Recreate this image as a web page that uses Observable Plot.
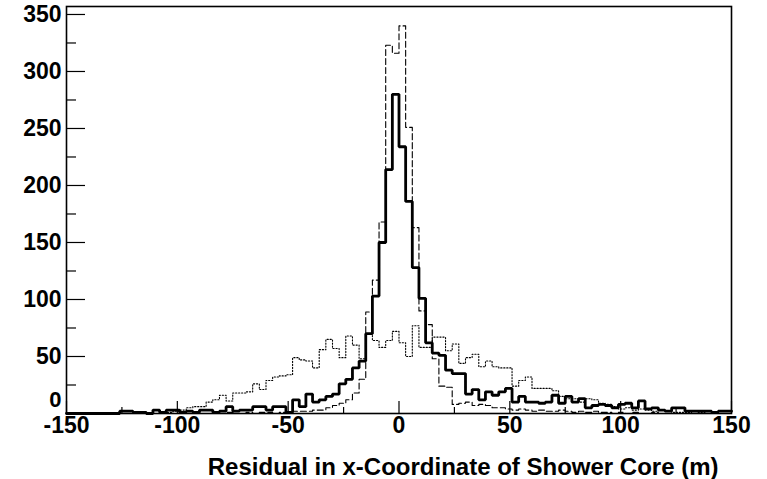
<!DOCTYPE html>
<html>
<head>
<meta charset="utf-8">
<script src="https://cdn.jsdelivr.net/npm/d3@7"></script>
<script src="https://cdn.jsdelivr.net/npm/@observablehq/plot@0.6"></script>
<style>
  body { margin: 0; background: #fff; }
  #chart svg { display: block; }
</style>
</head>
<body>
<div id="chart"></div>
<script>
// Histogram binning: 100 bins of 3 m from -150 m to 150 m
const binLow = -150;
const binWidth = 3;

// Thick solid histogram (counts per bin)
const solidCounts = [
  0, 0, 0, 0, 0, 0, 0, 0, 2, 2,
  1, 1, 0, 3, 1, 3, 3, 1, 2, 1,
  3, 3, 1, 2, 6, 2, 3, 3, 6, 6,
  3, 6, 6, 1, 12, 6, 17, 10, 12, 15,
  17, 26, 30, 40, 46, 70, 103, 150, 214, 280,
  234, 186, 128, 101, 62, 53, 51, 38, 35, 35,
  17, 21, 12, 19, 16, 19, 22, 10, 15, 10,
  10, 9, 10, 16, 9, 15, 10, 13, 5, 7,
  8, 7, 5, 8, 9, 5, 11, 4, 5, 3,
  2, 5, 5, 2, 2, 2, 2, 1, 2, 2
];

// Dashed histogram (narrowest distribution)
const dashedCounts = [
  0, 0, 0, 0, 0, 0, 0, 0, 0, 0,
  0, 0, 0, 0, 0, 0, 0, 0, 0, 0,
  0, 0, 0, 0, 1, 0, 0, 1, 0, 1,
  1, 0, 1, 1, 2, 2, 2, 3, 3, 5,
  7, 9, 12, 18, 30, 89, 117, 168, 323, 316,
  340, 251, 163, 90, 78, 48, 24, 23, 8, 9,
  10, 7, 8, 7, 5, 5, 4, 3, 4, 3,
  2, 3, 2, 2, 3, 2, 1, 2, 1, 2,
  1, 1, 0, 1, 0, 1, 0, 0, 1, 0,
  0, 0, 0, 0, 0, 0, 0, 0, 0, 0
];

// Dotted histogram (broad distribution)
const dottedCounts = [
  0, 0, 0, 0, 0, 0, 0, 0, 0, 0,
  0, 0, 0, 0, 0, 1, 2, 3, 5, 6,
  6, 10, 12, 16, 11, 18, 18, 19, 26, 21,
  29, 32, 33, 34, 49, 47, 46, 40, 56, 65,
  57, 49, 68, 60, 48, 70, 64, 58, 64, 72,
  62, 50, 77, 58, 58, 67, 67, 55, 61, 44,
  49, 52, 41, 46, 41, 40, 40, 24, 29, 32,
  22, 22, 22, 20, 15, 13, 13, 10, 13, 12,
  9, 8, 6, 4, 5, 3, 4, 3, 2, 3,
  2, 1, 1, 1, 0, 1, 0, 0, 0, 0
];

// Axis ticks and labels
const xLabelTicks = [-150, -100, -50, 0, 50, 100, 150];
const xMinorTicks = [-125, -75, -25, 25, 75, 125];
const yLabelTicks = [0, 50, 100, 150, 200, 250, 300, 350];
const yMinorTicks = [25, 75, 125, 175, 225, 275, 325];
const xTitle = "Residual in x-Coordinate of Shower Core (m)";
const yMax = 357;

const W = 767, H = 479;
const mL = 66, mR = 36, mT = 6, mB = 66;
const frameW = W - mL - mR;
const frameH = H - mT - mB;

// Turn bin counts into step-line vertices (one per bin edge)
function stepPoints(counts) {
  const pts = counts.map((c, i) => ({x: binLow + i * binWidth, y: c}));
  pts.push({x: binLow + counts.length * binWidth, y: counts[counts.length - 1]});
  return pts;
}

const font = "'Liberation Sans', Arial, Helvetica, sans-serif";

const chart = Plot.plot({
  width: W,
  height: H,
  marginLeft: mL,
  marginRight: mR,
  marginTop: mT,
  marginBottom: mB,
  x: {domain: [-150, 150], axis: null},
  y: {domain: [0, yMax], axis: null},
  style: {fontFamily: font, fontWeight: "bold", background: "white", color: "black"},
  marks: [
    Plot.line(stepPoints(dottedCounts), {
      x: "x", y: "y", curve: "step-after",
      stroke: "black", strokeWidth: 1.1, strokeDasharray: "1.2,1.8"
    }),
    Plot.line(stepPoints(dashedCounts), {
      x: "x", y: "y", curve: "step-after",
      stroke: "black", strokeWidth: 1.1, strokeDasharray: "6,3"
    }),
    Plot.line(stepPoints(solidCounts), {
      x: "x", y: "y", curve: "step-after",
      stroke: "black", strokeWidth: 2.8, strokeLinejoin: "miter"
    }),
    // inward ticks on the left and bottom axes
    Plot.tickY(yLabelTicks, {y: d => d, insetRight: frameW - 19, stroke: "black", strokeWidth: 1.2}),
    Plot.tickY(yMinorTicks, {y: d => d, insetRight: frameW - 10, stroke: "black", strokeWidth: 1.2}),
    Plot.tickX(xLabelTicks, {x: d => d, insetTop: frameH - 12, stroke: "black", strokeWidth: 1.2}),
    Plot.tickX(xMinorTicks, {x: d => d, insetTop: frameH - 6, stroke: "black", strokeWidth: 1.2}),
    Plot.frame({stroke: "black", strokeWidth: 1.6}),
    // y labels; the zero label is lifted clear of the x labels
    Plot.text(yLabelTicks.filter(d => d !== 0), {
      y: d => d, text: d => String(d), frameAnchor: "left",
      textAnchor: "end", dx: -5, fontSize: 23, fontWeight: "bold", fill: "black"
    }),
    Plot.text(yLabelTicks.filter(d => d === 0), {
      y: d => d, text: d => String(d), frameAnchor: "left",
      textAnchor: "end", dx: -5, dy: -14, fontSize: 22, fontWeight: "bold", fill: "black"
    }),
    Plot.text(xLabelTicks, {
      x: d => d, text: d => String(d), frameAnchor: "bottom",
      lineAnchor: "middle", dy: 12.5, fontSize: 23, fontWeight: "bold", fill: "black"
    }),
    Plot.text([xTitle], {
      text: d => d, frameAnchor: "bottom-right", textAnchor: "end",
      lineAnchor: "middle", dx: -13, dy: 54, fontSize: 24, fontWeight: "bold", fill: "black"
    })
  ]
});

document.getElementById("chart").appendChild(chart);
</script>
</body>
</html>
